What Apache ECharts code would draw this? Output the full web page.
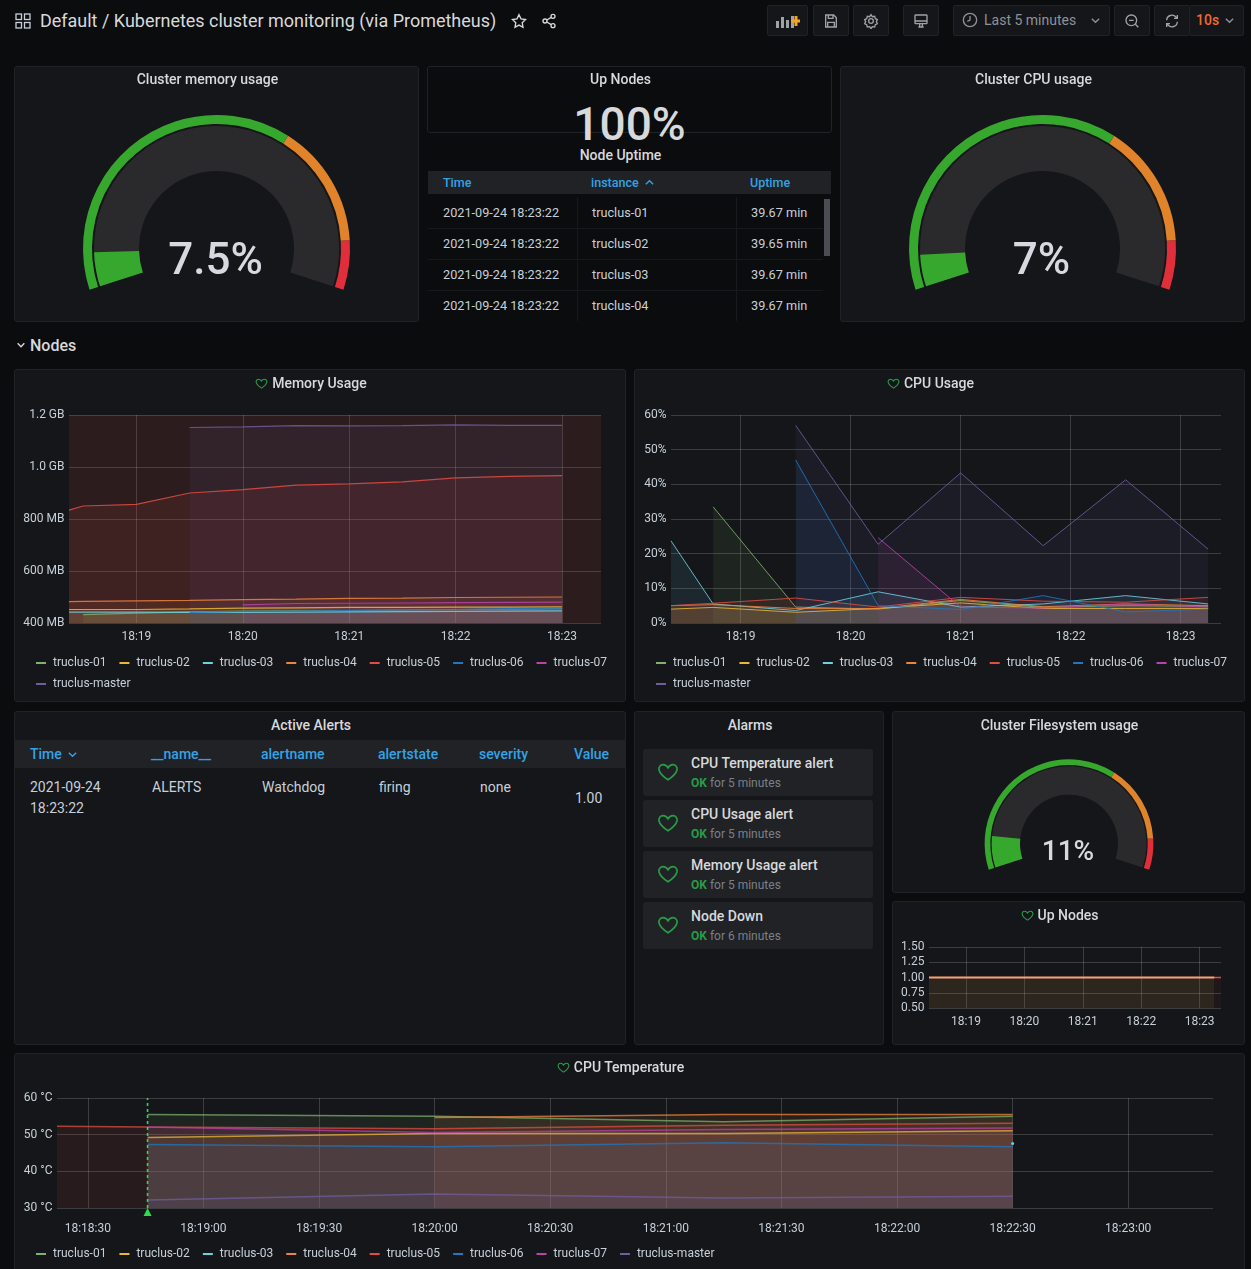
<!DOCTYPE html>
<html>
<head>
<meta charset="utf-8">
<title>Kubernetes cluster monitoring</title>
<script src="https://cdn.jsdelivr.net/npm/echarts@6/dist/echarts.min.js"></script>
<style>
html,body{margin:0;padding:0;background:#0b0c0e;width:1251px;height:1269px;overflow:hidden;font-family:Roboto,sans-serif;color:#c7d0d9;font-size:13px}
.abs{position:absolute;white-space:nowrap}
.panel{position:absolute;background:#141619;border:1px solid #202226;box-sizing:border-box;border-radius:3px;overflow:hidden}
.panel.clear{background:transparent}
.ptitle{position:absolute;left:0;right:18px;top:5px;text-align:center;font-size:14px;font-weight:500;color:#d8d9da;line-height:16px;z-index:2}
.ptitle svg{vertical-align:-2px;margin-right:4px}
.chart{position:absolute;left:0;top:0;width:100%;height:100%}
.btn{position:absolute;top:5px;height:31px;background:#141619;border:1px solid #202226;box-sizing:border-box;border-radius:2px}
.btn svg{position:absolute;left:50%;top:50%;margin:-8px 0 0 -8px}
.alarm{position:absolute;left:643px;width:230px;height:47px;background:#202226;border-radius:3px}
.alarm svg{position:absolute;left:14px;top:12px}
.alarm b{position:absolute;left:48px;top:6px;font-size:14px;font-weight:500;color:#d8d9da;line-height:16px;white-space:nowrap}
.alarm span{position:absolute;left:48px;top:27px;font-size:12px;line-height:14px;color:#7b8087;white-space:nowrap}
.alarm i{font-style:normal;font-weight:700;color:#299c46}
</style>
</head>
<body>
<div id="page"></div>
<script>
// 主机列表和配色（Grafana 经典色板）
var NODES = ['truclus-01','truclus-02','truclus-03','truclus-04','truclus-05','truclus-06','truclus-07','truclus-master'];
var COLORS = ['#7EB26D','#EAB839','#6ED0E0','#EF843C','#E24D42','#1F78C1','#BA43A9','#705DA0'];
var GRID = 'rgba(255,255,255,0.17)';
var LABEL = '#c7d0d9';
var TH = 'color:#33a2e5;font-weight:500;';

function t(s){
	var p = s.split(':');
	return new Date(2021,8,24,+p[0],+p[1],0,p[2]*1000).getTime();
}
var T0 = t('18:18:22'), T1 = t('18:23:22');

// 内存 (MB)
var memTimes = ['18:18:22','18:18:30','18:19:00','18:19:30','18:20:00','18:20:30','18:21:00','18:21:30','18:22:00','18:22:30','18:23:00'];
var memData = {
	'truclus-01':[null,432,438,443,446,447,448,450,452,453,455],
	'truclus-02':[452,452,452,454,457,458,460,460,461,461,462],
	'truclus-03':[442,442,442,441,441,442,443,444,445,446,447],
	'truclus-04':[482,483,485,487,490,492,495,496,498,499,500],
	'truclus-05':[834,850,856,900,913,930,935,943,958,964,967],
	'truclus-06':[null,null,null,441,445,446,448,450,452,455,457],
	'truclus-07':[null,null,null,null,470,475,476,477,478,479,480],
	'truclus-master':[null,null,null,1152,1154,1159,1158,1159,1162,1160,1160]
};
// CPU (%)
var cpuTimes = ['18:18:22','18:18:45','18:19:30','18:20:15','18:21:00','18:21:45','18:22:30','18:23:15'];
var cpuData = {
	'truclus-01':[null,33.5,4.6,4.0,6.5,4.5,5.0,4.8],
	'truclus-02':[4.0,4.5,3.1,4.2,5.8,4.2,4.2,4.2],
	'truclus-03':[23.7,5.5,3.6,9.0,4.6,5.5,7.9,5.5],
	'truclus-04':[5.0,5.3,4.2,4.2,6.8,4.7,5.5,5.0],
	'truclus-05':[5.0,5.7,7.2,4.6,7.4,6.3,6.0,7.4],
	'truclus-06':[null,null,47,5.0,3.9,7.9,3.2,4.0],
	'truclus-07':[null,null,null,24.6,4.6,4.3,5.5,4.6],
	'truclus-master':[null,null,57,22.7,43.3,22.3,41.3,21.3]
};
// 温度 (°C)
var tempTimes = ['18:18:22','18:18:45.5','18:20:00','18:21:15','18:22:30'];
var tempData = {
	'truclus-01':[null,55.5,55.0,53.5,55.0],
	'truclus-02':[null,49.2,50.3,50.3,51.1],
	'truclus-03':[null,null,null,null,47.6],
	'truclus-04':[null,null,54.7,55.5,55.5],
	'truclus-05':[52.3,52.1,51.6,52.6,53.1],
	'truclus-06':[null,47.3,46.7,47.8,46.7],
	'truclus-07':[null,52.1,50.6,51.4,51.8],
	'truclus-master':[null,32.2,33.8,32.7,33.2]
};
// 在线节点
var upTimes = ['18:18:22','18:19:00','18:20:00','18:21:00','18:22:00','18:23:00','18:23:15','18:23:22'];
var upData = {
	'truclus-05':[1,1,1,1,1,1,1,1],
	'truclus-01':[1,1,1,1,1,1,1,null],
	'truclus-02':[1,1,1,1,1,1,1,null]
};
var gauges = [
	{panel:[14,66,405,256], cx:201.5, cy:181.5, r:133.5, ring:9, gap:2, track:45, value:7.5, text:'7.5%', font:44, offset:14},
	{panel:[840,66,405,256], cx:201.5, cy:181.5, r:133.5, ring:9, gap:2, track:45, value:7, text:'7%', font:44, offset:14},
	{panel:[892,711,353,182], cx:176, cy:131.7, r:84.4, ring:5.7, gap:1.3, track:28.4, value:11, text:'11%', font:28, offset:9}
];
var uptime = [['truclus-01','39.67 min'],['truclus-02','39.65 min'],['truclus-03','39.67 min'],['truclus-04','39.67 min']];
var alarms = [
	['CPU Temperature alert','5 minutes'],
	['CPU Usage alert','5 minutes'],
	['Memory Usage alert','5 minutes'],
	['Node Down','6 minutes']
];

var page = document.getElementById('page');
var HEART = 'M12 20.5S3.5 15 2.2 9.8C1.4 6.4 3.8 4 6.6 4c2.200 0 4.200 1.300 5.400 3.500C13.200 5.300 15.200 4 17.400 4c2.800 0 5.200 2.400 4.400 5.800C20.500 15 12 20.500 12 20.500z';
function heart(size,w){
	return '<svg width="'+size+'" height="'+size+'" viewBox="0 0 24 24" fill="none" stroke="#299c46" stroke-width="'+w+'"><path d="'+HEART+'"/></svg>';
}
function add(html){
	var d = document.createElement('div');
	d.innerHTML = html;
	var el = d.firstChild;
	page.appendChild(el);
	return el;
}
function text(x,y,s,css){
	add('<div class="abs" style="left:'+x+'px;top:'+(y-8)+'px;line-height:16px;'+(css||'')+'">'+s+'</div>');
}
function panel(x,y,w,h,title,hasHeart,clear){
	// 第一排标题比其它面板高 1px
	var titleTop = y===66 ? 'top:4px' : '';
	return add('<div class="panel'+(clear?' clear':'')+'" style="left:'+x+'px;top:'+y+'px;width:'+w+'px;height:'+h+'px">'+
		(title?'<div class="ptitle" style="'+titleTop+'">'+(hasHeart?heart(13,2):'')+title+'</div>':'')+'</div>');
}
function chartIn(el){
	var c = document.createElement('div');
	c.className = 'chart';
	el.appendChild(c);
	return echarts.init(c);
}

/* ---------- 顶部工具栏 ---------- */
function ic(path){
	return '<svg width="16" height="16" viewBox="0 0 24 24" fill="none" stroke="#9fa2a8" stroke-width="2">'+path+'</svg>';
}
text(40,21,'Default / Kubernetes cluster monitoring (via Prometheus)','font-size:17.980px;color:#d8d9da;');
add('<svg class="abs" style="left:15px;top:13px" width="16" height="16" viewBox="0 0 16 16" fill="none" stroke="#c7d0d9" stroke-width="1.3"><rect x="1" y="1" width="5.500" height="5.500"/><rect x="9.500" y="1" width="5.500" height="5.500"/><rect x="1" y="9.500" width="5.500" height="5.500"/><rect x="9.500" y="9.500" width="5.500" height="5.500"/></svg>');
add('<svg class="abs" style="left:511px;top:13px" width="16" height="16" viewBox="0 0 24 24" fill="none" stroke="#d8d9da" stroke-width="2"><path d="M12 2.500l3 6.300 6.800 1-5 4.800 1.200 6.900-6-3.300-6 3.300 1.200-6.900-5-4.800 6.800-1z"/></svg>');
add('<svg class="abs" style="left:541px;top:13px" width="16" height="16" viewBox="0 0 24 24" fill="none" stroke="#d8d9da" stroke-width="2"><circle cx="18" cy="5" r="3"/><circle cx="6" cy="12" r="3"/><circle cx="18" cy="19" r="3"/><path d="M8.600 10.500l6.800-4M8.600 13.500l6.800 4"/></svg>');
var btns = [
	[767,41,'<svg width="24" height="16" viewBox="0 0 24 16" style="margin-left:-12px"><rect x="0" y="8" width="3" height="7" fill="#9fa2a8"/><rect x="5" y="4" width="3" height="11" fill="#9fa2a8"/><rect x="10" y="7" width="3" height="8" fill="#9fa2a8"/><rect x="15" y="3" width="3" height="12" fill="#9fa2a8"/><path d="M20 3v10M15 8h9" stroke="#f5a623" stroke-width="3"/></svg>'],
	[813,36,ic('<path d="M4 3h12l4 4v14H4z"/><path d="M8 3v5h7V3M7 21v-7h10v7"/>')],
	[853,36,ic('<circle cx="12" cy="12" r="3.500"/><path d="M12 2.500l2 3 3.500-.5 1 3.500 3 1.500-1.500 3 1.500 3-3 1.500-1 3.500-3.500-.5-2 3-2-3-3.500.5-1-3.500-3-1.500 1.500-3-1.500-3 3-1.500 1-3.500 3.500.5z"/>')],
	[903,36,ic('<rect x="3" y="3" width="18" height="13" rx="1"/><path d="M3 12h18M8 21h8M10 16v5M14 16v5"/>')],
	[953,157,''],
	[1114,36,ic('<circle cx="11" cy="11" r="8"/><path d="M7.500 11h7M17 17l4.500 4.500"/>')],
	[1154,36,ic('<path d="M4 11a8 8 0 0 1 14-5l2 2M20 13a8 8 0 0 1-14 5l-2-2M20 3v5h-5M4 21v-5h5"/>')],
	[1189,55,'']
];
btns.forEach(function(b){
	add('<div class="btn" style="left:'+b[0]+'px;width:'+b[1]+'px">'+b[2]+'</div>');
});
add('<svg class="abs" style="left:962px;top:12px" width="16" height="16" viewBox="0 0 24 24" fill="none" stroke="#8e9197" stroke-width="2"><circle cx="12" cy="12" r="10"/><path d="M12 6v6l-4 2"/></svg>');
text(984,20,'Last 5 minutes','font-size:14px;color:#8e9197;');
add('<svg class="abs" style="left:1090px;top:15px" width="11" height="11" viewBox="0 0 12 12" fill="none" stroke="#8e9197" stroke-width="1.500"><path d="M2 4l4 4 4-4"/></svg>');
text(1196,20,'10s','font-size:14px;font-weight:500;color:#f0692a;');
add('<svg class="abs" style="left:1224px;top:15px" width="11" height="11" viewBox="0 0 12 12" fill="none" stroke="#8e9197" stroke-width="1.500"><path d="M2 4l4 4 4-4"/></svg>');
add('<svg class="abs" style="left:16px;top:340px" width="10" height="10" viewBox="0 0 12 12" fill="none" stroke="#d8d9da" stroke-width="1.700"><path d="M2 4l4 4 4-4"/></svg>');
text(30,346,'Nodes','font-size:16px;font-weight:500;color:#d8d9da;');

/* ---------- 仪表盘 ---------- */
function renderGauge(title,g){
	var el = panel(g.panel[0],g.panel[1],g.panel[2],g.panel[3],title);
	var common = {
		type:'gauge', startAngle:198, endAngle:-18, min:0, max:100, center:[g.cx,g.cy],
		pointer:{show:false}, axisTick:{show:false}, splitLine:{show:false}, axisLabel:{show:false}, title:{show:false}, silent:true
	};
	chartIn(el).setOption({
		animation:false,
		series:[
			Object.assign({},common,{
				radius:g.r,
				axisLine:{lineStyle:{width:g.ring,color:[[0.65,'#37a82e'],[0.9,'#e0832b'],[1,'#e02f3a']]}},
				detail:{show:false},
				data:[{value:0}]
			}),
			Object.assign({},common,{
				radius:g.r-g.ring-g.gap,
				axisLine:{lineStyle:{width:g.track,color:[[1,'#2a2a2c']]}},
				progress:{show:true,width:g.track,itemStyle:{color:'#37a82e'}},
				detail:{
					show:true, offsetCenter:[-1,g.offset], fontSize:g.font, fontWeight:500,
					fontFamily:'Roboto', color:'#d8d9e0',
					formatter:function(){ return g.text; }
				},
				data:[{value:g.value}]
			})
		]
	});
}
renderGauge('Cluster memory usage',gauges[0]);
renderGauge('Cluster CPU usage',gauges[1]);

/* ---------- Up Nodes / Node Uptime ---------- */
panel(427,66,405,67,'Up Nodes',false,true);
add('<div class="abs" style="left:427px;width:405px;top:97px;line-height:54px;text-align:center;font-size:46px;font-weight:500;color:#d8d9da;z-index:3">100%</div>');
add('<div class="abs" style="left:427px;width:387px;top:147px;line-height:16px;text-align:center;font-size:14px;font-weight:500;color:#d8d9da">Node Uptime</div>');
add('<div class="abs" style="left:428px;top:171px;width:403px;height:23px;background:#202226"></div>');
text(443,183,'Time','font-size:12.500px;'+TH);
text(591,183,'instance','font-size:12.500px;'+TH);
text(750,183,'Uptime','font-size:12.500px;'+TH);
add('<svg class="abs" style="left:644px;top:177px" width="11" height="11" viewBox="0 0 12 12" fill="none" stroke="#33a2e5" stroke-width="1.500"><path d="M2 8l4-4 4 4"/></svg>');
uptime.forEach(function(r,i){
	var y = 212.5+i*31;
	text(443,y,'2021-09-24 18:23:22','font-size:12.700px;');
	text(592,y,r[0],'font-size:12.700px;');
	text(751,y,r[1],'font-size:12.700px;');
	add('<div class="abs" style="left:577px;top:'+(y-16)+'px;width:1px;height:31px;background:#17191c"></div>');
	add('<div class="abs" style="left:736px;top:'+(y-16)+'px;width:1px;height:31px;background:#17191c"></div>');
	if(i<3) add('<div class="abs" style="left:428px;top:'+(y+15)+'px;width:395px;height:1px;background:#17191c"></div>');
});
add('<div class="abs" style="left:824px;top:199px;width:6px;height:57px;background:#4b4d55"></div>');

/* ---------- 折线图 ---------- */
function hm(v){
	var d = new Date(v), h = d.getHours(), m = d.getMinutes();
	return (h<10?'0':'')+h+':'+(m<10?'0':'')+m;
}
function hms(v){
	var d = new Date(v), s = d.getSeconds();
	return hm(v)+':'+(s<10?'0':'')+s;
}
function timeAxis(step,fmt,margin){
	return {
		type:'time', min:T0, max:T1, minInterval:step, maxInterval:step,
		axisLine:{show:false}, axisTick:{show:false},
		splitLine:{show:true,showMinLine:false,showMaxLine:false,lineStyle:{color:GRID,width:1}},
		axisLabel:{color:LABEL,fontSize:12,fontFamily:'Roboto',margin:margin||8,formatter:fmt,showMinLabel:false,showMaxLabel:false,hideOverlap:false}
	};
}
function valueAxis(min,max,interval,fmt){
	return {
		type:'value', min:min, max:max, interval:interval,
		axisLine:{show:false}, axisTick:{show:false},
		splitLine:{show:true,lineStyle:{color:GRID,width:1}},
		axisLabel:{color:LABEL,fontSize:12,fontFamily:'Roboto',margin:4.5,padding:[3,0,0,0],formatter:fmt}
	};
}
function legend(names,top){
	return {
		data:names, left:21, top:top, width:1180, padding:0, orient:'horizontal', icon:'rect',
		itemWidth:10, itemHeight:2, itemGap:13,
		textStyle:{color:LABEL,fontSize:12,fontFamily:'Roboto',padding:[0,0,0,2]}
	};
}
// 图例折成两行（行距和列距不同，所以分成两个 legend）
function twoRowLegend(top){
	return [legend(NODES.slice(0,7),top),legend(NODES.slice(7),top+21)];
}
function buildSeries(names,times,table,lineWidth,fill,lineOpacity){
	return names.map(function(n){
		return {
			name:n, type:'line', symbol:'none', smooth:false, silent:true,
			itemStyle:{color:COLORS[NODES.indexOf(n)]},
			lineStyle:{width:lineWidth,color:COLORS[NODES.indexOf(n)],opacity:lineOpacity||1},
			areaStyle:{color:COLORS[NODES.indexOf(n)],opacity:fill,origin:'start'},
			data:times.map(function(s,i){ return [t(s),table[n][i]]; })
		};
	});
}

// 内存
var memEl = panel(14,369,612,333,'Memory Usage',true);
var memSeries = buildSeries(NODES,memTimes,memData,1.2,0.1,0.85);
memSeries[4].markArea = {silent:true,itemStyle:{color:'rgba(226,77,66,0.12)'},data:[[{yAxis:400},{yAxis:1200}]]};
chartIn(memEl).setOption({
	animation:false,
	tooltip:{trigger:'axis'},
	grid:{left:54,right:24,top:45,height:208},
	xAxis:timeAxis(60000,hm),
	yAxis:valueAxis(400,1200,200,function(v){ return v>=1000 ? (v/1000).toFixed(1)+' GB' : v+' MB'; }),
	legend:twoRowLegend(287),
	series:memSeries
});

// CPU
var cpuEl = panel(634,369,611,333,'CPU Usage',true);
chartIn(cpuEl).setOption({
	animation:false,
	tooltip:{trigger:'axis'},
	grid:{left:36,right:23,top:45,height:208},
	xAxis:timeAxis(60000,hm),
	yAxis:valueAxis(0,60,10,function(v){ return v+'%'; }),
	legend:twoRowLegend(287),
	series:buildSeries(NODES,cpuTimes,cpuData,1,0.1,0.85)
});

/* ---------- Active Alerts ---------- */
panel(14,711,612,334,'Active Alerts');
add('<div class="abs" style="left:15px;top:740px;width:610px;height:28px;background:#202226"></div>');
[['Time',30],['__name__',151],['alertname',261],['alertstate',378],['severity',479],['Value',574]].forEach(function(h){
	text(h[1],754,h[0],'font-size:14px;'+TH);
});
add('<svg class="abs" style="left:67px;top:749px" width="11" height="11" viewBox="0 0 12 12" fill="none" stroke="#33a2e5" stroke-width="1.500"><path d="M2 4l4 4 4-4"/></svg>');
text(30,787,'2021-09-24','font-size:14px;');
text(30,808,'18:23:22','font-size:14px;');
text(152,787,'ALERTS','font-size:14px;');
text(262,787,'Watchdog','font-size:14px;');
text(379,787,'firing','font-size:14px;');
text(480,787,'none','font-size:14px;');
text(575,798,'1.00','font-size:14px;');

/* ---------- Alarms ---------- */
panel(634,711,250,334,'Alarms');
alarms.forEach(function(a,i){
	add('<div class="alarm" style="top:'+(749+i*51)+'px">'+heart(22,1.8)+'<b>'+a[0]+'</b><span><i>OK</i> for '+a[1]+'</span></div>');
});

renderGauge('Cluster Filesystem usage',gauges[2]);

/* ---------- Up Nodes 曲线 ---------- */
var upEl = panel(892,901,353,144,'Up Nodes',true);
var upSeries = buildSeries(['truclus-05','truclus-01','truclus-02'],upTimes,upData,1.5,0.05);
upSeries[2].lineStyle.color = '#e0ad78';
upSeries[1].lineStyle.color = '#e0ad78';
chartIn(upEl).setOption({
	animation:false,
	tooltip:{trigger:'axis'},
	grid:{left:36,right:23,top:45,height:61},
	xAxis:timeAxis(60000,hm),
	yAxis:valueAxis(0.5,1.5,0.25,function(v){ return v.toFixed(2); }),
	series:upSeries
});

/* ---------- CPU 温度 ---------- */
var tempEl = panel(14,1053,1231,230,'CPU Temperature',true);
var tempSeries = buildSeries(NODES,tempTimes,tempData,1.5,0.1,0.75);
tempSeries[2].symbol = 'circle';
tempSeries[2].symbolSize = 3;
tempSeries[2].showSymbol = true;
// 告警标注单独一个系列，不进图例
tempSeries.push({
	name:'alert', type:'line', symbol:'none', silent:true, z:20,
	itemStyle:{color:'#2fdc4b'},
	lineStyle:{color:'#2fdc4b',type:[3,3],width:1.6,opacity:1},
	data:[[t('18:18:45.5'),30],[t('18:18:45.5'),60]],
	markPoint:{
		silent:true, symbol:'triangle', symbolSize:8, symbolOffset:[0,4], label:{show:false},
		itemStyle:{color:'#2fdc4b'},
		data:[{coord:[t('18:18:45.5'),30]}]
	}
});
chartIn(tempEl).setOption({
	animation:false,
	tooltip:{show:false},
	grid:{left:42,right:31,top:44,height:110},
	xAxis:timeAxis(30001,hms,15),
	yAxis:valueAxis(30,60,10,function(v){ return v+' °C'; }),
	legend:legend(NODES,194),
	series:tempSeries
});
</script>
</body>
</html>
